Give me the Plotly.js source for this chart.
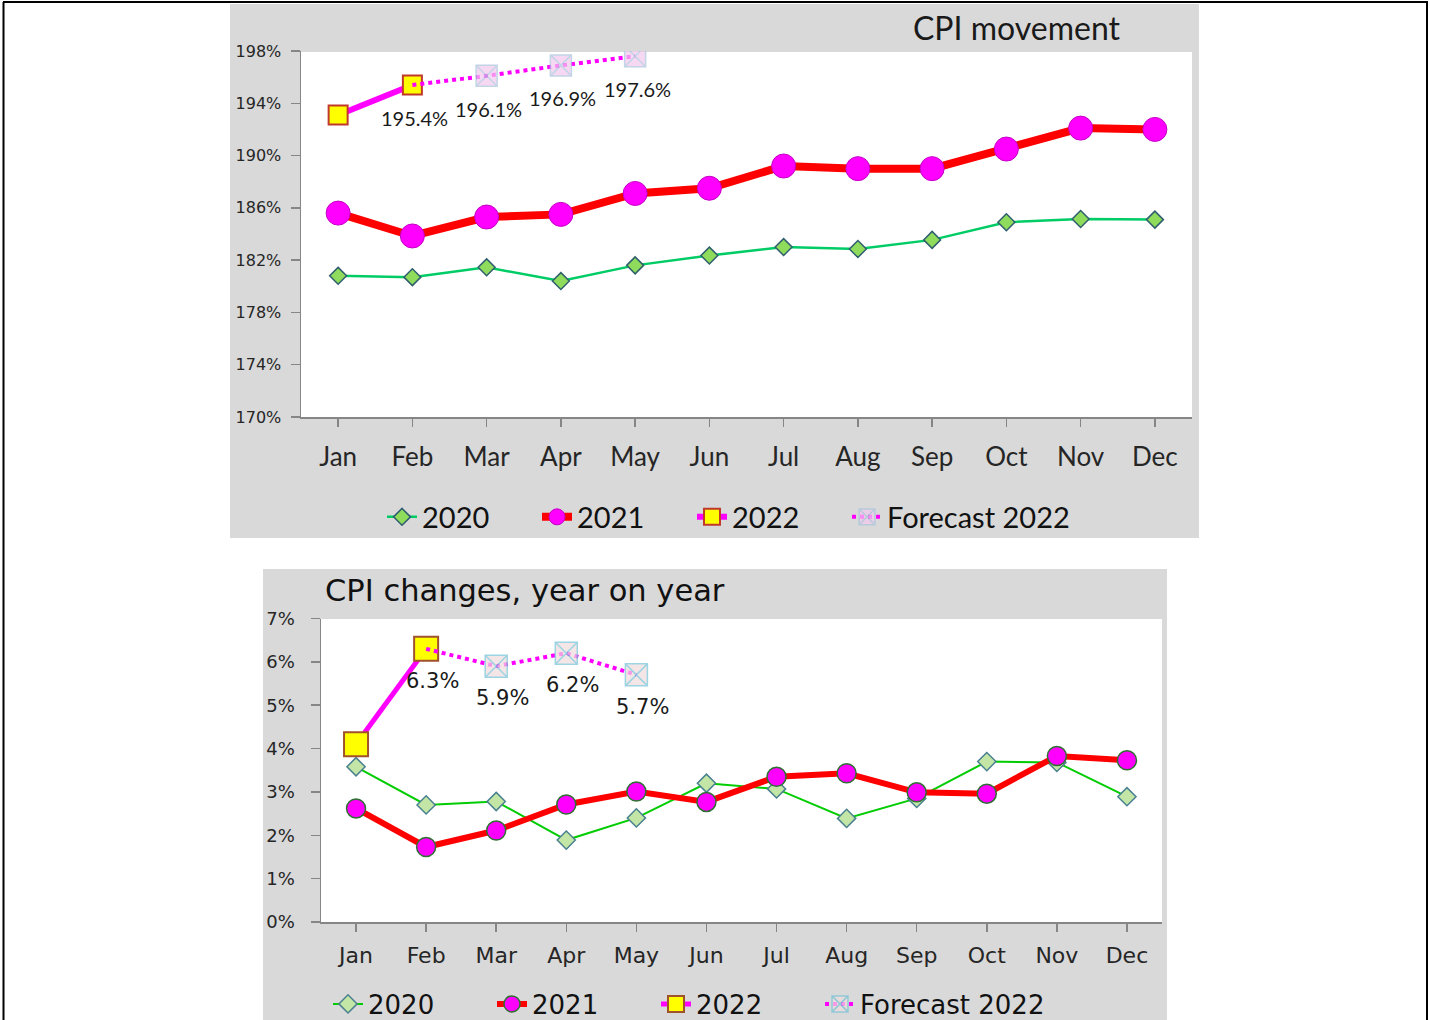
<!DOCTYPE html>
<html><head><meta charset="utf-8">
<script src="https://cdn.plot.ly/plotly-3.0.1.min.js"></script>
<style>html,body{margin:0;padding:0;background:#fff;overflow:hidden}#chart{width:1430px;height:1020px}</style>
</head><body><div id="chart"></div>
<script>
// ---- data ----
const months = ['Jan','Feb','Mar','Apr','May','Jun','Jul','Aug','Sep','Oct','Nov','Dec'];
const cpi2020 = [180.8,180.7,181.45,180.4,181.6,182.35,183.0,182.85,183.55,184.9,185.15,185.1];
const cpi2021 = [185.6,183.85,185.3,185.5,187.1,187.5,189.2,189.0,189.0,190.5,192.1,192.0];
const months2022 = ['Jan','Feb'];
const cpi2022 = [193.1,195.4];
const monthsForecast = ['Feb','Mar','Apr','May'];
const cpiForecast = [195.4,196.1,196.9,197.6];
const yoy2020 = [3.58,2.7,2.78,1.89,2.4,3.2,3.07,2.39,2.85,3.7,3.68,2.89];
const yoy2021 = [2.62,1.73,2.11,2.71,3.01,2.77,3.35,3.43,2.99,2.96,3.83,3.73];
const yoy2022 = [4.1,6.3];
const yoyForecast = [6.3,5.9,6.2,5.7];
const cpiTitle = 'CPI movement';
const yoyTitle = 'CPI changes, year on year';

// ---- helpers ----
const W = 1430, H = 1020;
const px = x => x / W;
const py = y => 1 - y / H;

const topFont = 'Lato, "Open Sans", sans-serif';
const botFont = '"DejaVu Sans", Verdana, sans-serif';

const traces = [
  {x: months, y: cpi2020, name: '2020', type: 'scatter', mode: 'lines+markers', xaxis: 'x', yaxis: 'y', legend: 'legend',
   line: {color: '#00CC66', width: 2.5},
   marker: {symbol: 'diamond', size: 13, color: '#8FDB5C', line: {color: '#2F5F6F', width: 1.5}}},
  {x: months, y: cpi2021, name: '2021', type: 'scatter', mode: 'lines+markers', xaxis: 'x', yaxis: 'y', legend: 'legend',
   line: {color: '#FF0000', width: 8},
   marker: {symbol: 'circle', size: 24, color: '#FF00FF', line: {color: '#C400C4', width: 1}}},
  {x: months2022, y: cpi2022, name: '2022', type: 'scatter', mode: 'lines+markers', xaxis: 'x', yaxis: 'y', legend: 'legend',
   line: {color: '#FF00FF', width: 6},
   marker: {symbol: 'square', size: 19, color: '#FFFF00', line: {color: '#C0392B', width: 2}}},
  {x: monthsForecast, y: cpiForecast, name: 'Forecast 2022', type: 'scatter', mode: 'lines+markers', xaxis: 'x', yaxis: 'y', legend: 'legend',
   legendwidth: 220,
   line: {color: '#FF00FF', width: 4, dash: 'dot'},
   marker: {symbol: 'square-x', size: [0, 21, 21, 21], color: '#F4C8EE', line: {color: '#A9C4DC', width: 1.5}}},

  {x: months, y: yoy2020, name: '2020', type: 'scatter', mode: 'lines+markers', xaxis: 'x2', yaxis: 'y2', legend: 'legend2',
   line: {color: '#00CC00', width: 2},
   marker: {symbol: 'diamond', size: 14, color: '#C3E6A6', line: {color: '#4A8090', width: 1.5}}},
  {x: months, y: yoy2021, name: '2021', type: 'scatter', mode: 'lines+markers', xaxis: 'x2', yaxis: 'y2', legend: 'legend2',
   line: {color: '#FF0000', width: 6},
   marker: {symbol: 'circle', size: 19, color: '#FF00FF', line: {color: '#2E7031', width: 1.5}}},
  {x: months2022, y: yoy2022, name: '2022', type: 'scatter', mode: 'lines+markers', xaxis: 'x2', yaxis: 'y2', legend: 'legend2',
   line: {color: '#FF00FF', width: 5},
   marker: {symbol: 'square', size: 24, color: '#FFFF00', line: {color: '#A0522D', width: 2}}},
  {x: monthsForecast, y: yoyForecast, name: 'Forecast 2022', type: 'scatter', mode: 'lines+markers', xaxis: 'x2', yaxis: 'y2', legend: 'legend2',
   legendwidth: 220,
   line: {color: '#FF00FF', width: 4, dash: 'dot'},
   marker: {symbol: 'square-x', size: [0, 22, 22, 22], color: '#F0DCDC', line: {color: '#74C2D8', width: 1.5}}}
];

const shapes = [
  // outer black frame
  {type: 'line', xref: 'paper', yref: 'paper', x0: px(3), x1: px(1428), y0: py(2), y1: py(2), line: {color: '#000', width: 2}},
  {type: 'line', xref: 'paper', yref: 'paper', x0: px(3.5), x1: px(3.5), y0: py(2), y1: py(1020), line: {color: '#000', width: 2}},
  {type: 'line', xref: 'paper', yref: 'paper', x0: px(1427), x1: px(1427), y0: py(2), y1: py(1020), line: {color: '#000', width: 2}},
  // grey chart areas
  {type: 'rect', xref: 'paper', yref: 'paper', layer: 'below', x0: px(230), x1: px(1199), y0: py(538), y1: py(4), fillcolor: '#D9D9D9', line: {width: 0}},
  {type: 'rect', xref: 'paper', yref: 'paper', layer: 'below', x0: px(263), x1: px(1167), y0: py(1021), y1: py(569), fillcolor: '#D9D9D9', line: {width: 0}},
  // white plot areas
  {type: 'rect', xref: 'paper', yref: 'paper', layer: 'below', x0: px(301), x1: px(1192), y0: py(417), y1: py(52), fillcolor: '#FFFFFF', line: {width: 0}},
  {type: 'rect', xref: 'paper', yref: 'paper', layer: 'below', x0: px(321), x1: px(1162), y0: py(922), y1: py(619), fillcolor: '#FFFFFF', line: {width: 0}}
];

const topLabels = monthsForecast.map((m, i) => ({
  x: m, y: cpiForecast[i], xref: 'x', yref: 'y', text: cpiForecast[i].toFixed(1) + '%',
  showarrow: false, yshift: -33, xshift: 2, font: {family: topFont, size: 20, color: '#1a1a1a'}
}));
const botLabels = monthsForecast.map((m, i) => ({
  x: m, y: yoyForecast[i], xref: 'x2', yref: 'y2', text: yoyForecast[i].toFixed(1) + '%',
  showarrow: false, yshift: -32, xshift: 6, font: {family: botFont, size: 21, color: '#1a1a1a'}
}));

const axisCommon = {showline: true, linecolor: '#868686', linewidth: 1.5, ticks: 'outside', tickcolor: '#868686', tickwidth: 1.5, showgrid: false, zeroline: false, fixedrange: true};

const layout = {
  width: W, height: H, autosize: false,
  margin: {l: 0, r: 0, t: 0, b: 0, pad: 0, autoexpand: false},
  paper_bgcolor: '#FFFFFF', plot_bgcolor: 'rgba(0,0,0,0)',
  showlegend: true,
  title: {text: cpiTitle, x: px(1120), xanchor: 'right', xref: 'paper', y: py(29), yanchor: 'middle', yref: 'paper',
          font: {family: topFont, size: 32, color: '#1a1a1a'}},
  xaxis: Object.assign({}, axisCommon, {domain: [px(301), px(1192)], anchor: 'y', type: 'category', range: [-0.5, 11.5],
          ticklen: 8, ticklabelstandoff: 8, tickfont: {family: topFont, size: 26, color: '#262626'}}),
  yaxis: Object.assign({}, axisCommon, {domain: [py(417), py(51)], anchor: 'x', range: [170, 198], tick0: 170, dtick: 4, ticksuffix: '%',
          ticklen: 9, ticklabelstandoff: 6, tickfont: {family: botFont, size: 16, color: '#262626'}}),
  xaxis2: Object.assign({}, axisCommon, {domain: [px(321), px(1162)], anchor: 'y2', type: 'category', range: [-0.5, 11.5],
          ticklen: 8, ticklabelstandoff: 5, tickfont: {family: botFont, size: 22, color: '#262626'}}),
  yaxis2: Object.assign({}, axisCommon, {domain: [py(922), py(618.5)], anchor: 'x2', range: [0, 7], tick0: 0, dtick: 1, ticksuffix: '%',
          ticklen: 9, ticklabelstandoff: 12, tickfont: {family: botFont, size: 18, color: '#262626'}}),
  legend: {orientation: 'h', x: px(382), xanchor: 'left', y: py(517), yanchor: 'middle', bgcolor: 'rgba(0,0,0,0)',
           entrywidth: 110, font: {family: topFont, size: 29, color: '#111'}},
  legend2: {orientation: 'h', x: px(328), xanchor: 'left', y: py(1004), yanchor: 'middle', bgcolor: 'rgba(0,0,0,0)',
           entrywidth: 119, font: {family: botFont, size: 26, color: '#111'}},
  shapes: shapes,
  annotations: [
    {text: yoyTitle, xref: 'paper', yref: 'paper', x: px(323), xanchor: 'left', y: py(590), yanchor: 'middle', showarrow: false,
     font: {family: botFont, size: 30.5, color: '#111'}}
  ].concat(topLabels, botLabels)
};

Plotly.newPlot('chart', traces, layout, {staticPlot: true, displayModeBar: false});
</script></body></html>
